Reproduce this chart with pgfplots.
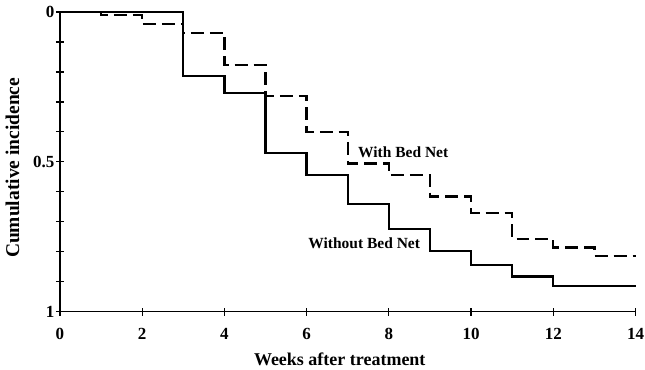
\documentclass[border=0pt]{standalone}
\usepackage{fontspec}
\setmainfont{Liberation Serif}
\usepackage{pgfplots}
\pgfplotsset{compat=1.18}
\begin{document}
\begin{tikzpicture}
\begin{axis}[
  name=ax,
  scale only axis, width=576pt, height=300pt,
  xmin=0, xmax=14, ymin=0, ymax=1,
  y dir=reverse,
  axis x line*=bottom, axis y line*=left,
  axis line style={line width=1.3pt},
  xtick={0,2,...,14},
  ytick={0,0.5,1}, yticklabels={0,0.5,1},
  minor ytick={0.1,0.2,0.3,0.4,0.6,0.7,0.8,0.9},
  tick align=center,
  major tick length=8pt, minor tick length=8pt,
  tick style={line width=1.2pt, black},
  /pgf/number format/assume math mode=true,
  ticklabel style={font=\bfseries\fontsize{17}{17}\selectfont},
  xticklabel style={yshift=-11pt, inner sep=1pt},
  yticklabel style={xshift=2pt},
  xlabel={Weeks after treatment},
  ylabel={Cumulative incidence},
  xlabel style={font=\bfseries\fontsize{18}{18}\selectfont, yshift=-9pt, xshift=-8pt},
  ylabel style={font=\bfseries\fontsize{19.5}{19.5}\selectfont, yshift=7pt, xshift=-6pt},
  clip=false,
]
\addplot[const plot, black, line width=2.4pt] coordinates {
 (0,0) (3,0.213) (4,0.27) (5,0.47) (6,0.543) (7,0.64) (8,0.723) (9,0.797) (10,0.845) (11,0.882) (12,0.915) (14,0.915)};
\addplot[const plot, black, line width=2.4pt, dash pattern=on 13pt off 6pt] coordinates {
 (0,0) (1,0.01) (2,0.04) (3,0.07) (4,0.177) (5,0.28) (6,0.40) (7,0.505) (8,0.543) (9,0.615) (10,0.67) (11,0.757) (12,0.785) (13,0.813) (14,0.813)};
\node[anchor=west, font=\bfseries\fontsize{15.5}{15.5}\selectfont, inner sep=0pt] at (axis cs:7.25,0.467) {With Bed Net};
\node[anchor=west, font=\bfseries\fontsize{15.5}{15.5}\selectfont, inner sep=0pt] at (axis cs:6.04,0.773) {Without Bed Net};
\end{axis}
\path (ax.north) ++(0,12pt) coordinate (topb);
\path (ax.west) ++(-60pt,0) coordinate (leftb);
\end{tikzpicture}
\end{document}
